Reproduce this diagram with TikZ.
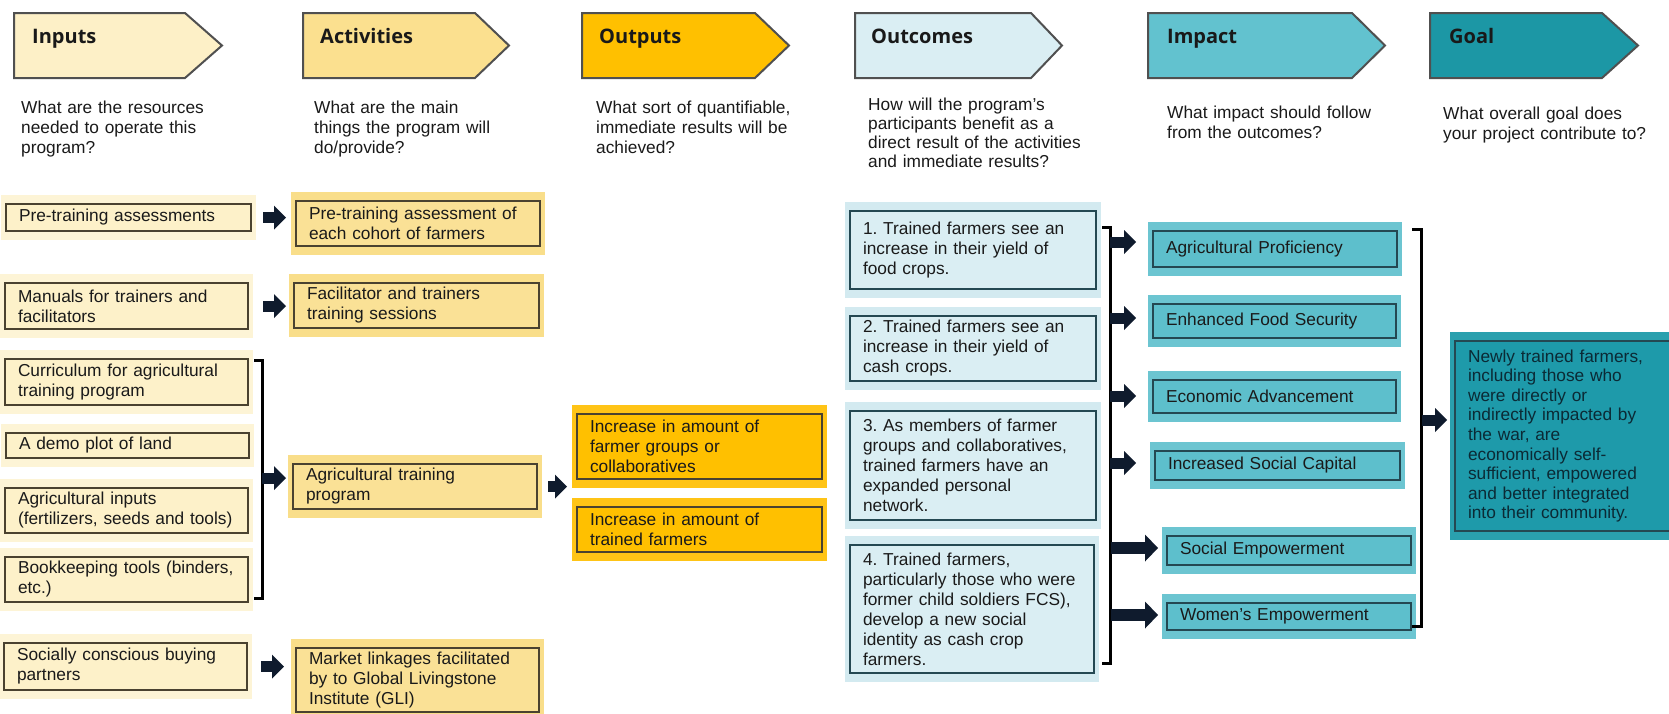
\documentclass[tikz,border=0pt]{standalone}
\usepackage{fontspec}
\setmainfont{Liberation Sans}
\newfontfamily\headfont{Open Sans}
\usetikzlibrary{arrows.meta,backgrounds,calc}
\definecolor{txt}{HTML}{1A1A1A}
\definecolor{hdline}{HTML}{505050}
\definecolor{ydark}{HTML}{4A4230}
\definecolor{bdark}{HTML}{244852}
\definecolor{arrowc}{HTML}{0F1B2D}
\definecolor{hin}{HTML}{FDF0C7}
\definecolor{hact}{HTML}{FBE08F}
\definecolor{hout}{HTML}{FFC000}
\definecolor{hoc}{HTML}{DAEEF3}
\definecolor{him}{HTML}{62C2CF}
\definecolor{hgo}{HTML}{1C97A5}
\definecolor{infill}{HTML}{FDF1C9}
\definecolor{inglow}{HTML}{FDF4D6}
\definecolor{acfill}{HTML}{FAE196}
\definecolor{acglow}{HTML}{F9DE8A}
\definecolor{oufill}{HTML}{FFC000}
\definecolor{ouglow}{HTML}{FFC416}
\definecolor{ocfill}{HTML}{DAEEF3}
\definecolor{ocglow}{HTML}{D3EAF0}
\definecolor{imfill}{HTML}{5DBFCC}
\definecolor{imglow}{HTML}{6CC5D1}
\definecolor{gofill}{HTML}{1E9AAA}
\definecolor{goglow}{HTML}{2AA0AE}
\definecolor{gotxt}{HTML}{0B2A35}
\tikzset{
  every node/.style={font=\frenchspacing\fontsize{17.3}{20}\selectfont, text=txt},
  bx/.style={draw=#1, line width=2pt, inner xsep=13pt, inner ysep=0pt, align=left},
  inbox/.style={bx=ydark, fill=infill},
  acbox/.style={bx=ydark, fill=acfill},
  oubox/.style={bx=ydark, fill=oufill},
  ocbox/.style={bx=bdark, fill=ocfill},
  imbox/.style={bx=bdark, fill=imfill},
  gobox/.style={bx=bdark, fill=gofill, text=gotxt, font=\frenchspacing\fontsize{17.3}{19.6}\selectfont},
  hd/.style={draw=hdline, line width=2pt, line join=miter},
  hdtext/.style={anchor=base west, inner sep=0pt, font=\headfont\bfseries\fontsize{20}{24}\selectfont, text=black!90},
  qtext/.style={anchor=base west, inner sep=0pt, text width=290pt, align=left},
  brk/.style={draw=black, line width=3pt, line join=miter},
  arrS/.style={draw=arrowc, line width=11pt, -{Triangle[length=12pt 0 0, width=24pt 0 0, line width=0pt 0 0]}},
  arrL/.style={draw=arrowc, line width=12pt, -{Triangle[length=13pt 0 0, width=27pt 0 0, line width=0pt 0 0]}},
}
\newcommand{\mkbox}[7]{%
  \pgfmathsetmacro{\boxwd}{#5-#3-26}%
  \pgfmathsetmacro{\boxht}{#6-#4}%
  \node[#2, text width=\boxwd pt, minimum height=\boxht pt, anchor=north west] (#1) at (#3,#4) {#7};}
\newcommand{\mkhead}[6]{%
  \draw[hd, fill=#2] (#3,13) -- (#4,13) -- (#5,45.5) -- (#4,78) -- (#3,78) -- cycle;}
\begin{document}
\begin{tikzpicture}[x=1pt,y=-1pt]
\useasboundingbox (0,0) rectangle (1669,713);

% headers
\mkhead{hIn}{hin}{14}{185}{222}{}
\mkhead{hAc}{hact}{303}{475}{509}{}
\mkhead{hOu}{hout}{582}{755}{789}{}
\mkhead{hOc}{hoc}{855}{1031}{1062}{}
\mkhead{hIm}{him}{1148}{1352}{1385}{}
\mkhead{hGo}{hgo}{1430}{1602}{1638}{}
\node[hdtext] (tIn) at (32,43) {Inputs};
\node[hdtext] (tAc) at (320,43) {Activities};
\node[hdtext] (tOu) at (599,43) {Outputs};
\node[hdtext] (tOc) at (871,43) {Outcomes};
\node[hdtext] (tIm) at (1167,43) {Impact};
\node[hdtext] (tGo) at (1449,43) {Goal};

% questions
\node[qtext] (qIn) at (21,113) {What are the resources\\needed to operate this\\program?};
\node[qtext] (qAc) at (314,113) {What are the main\\things the program will\\do/provide?};
\node[qtext] (qOu) at (596,113) {What sort of quantifiable,\\immediate results will be\\achieved?};
\node[qtext, font=\frenchspacing\fontsize{17.3}{19.3}\selectfont] (qOc) at (868,110) {How will the program's\\participants benefit as a\\direct result of the activities\\and immediate results?};
\node[qtext] (qIm) at (1167,118) {What impact should follow\\from the outcomes?};
\node[qtext] (qGo) at (1443,119) {What overall goal does\\your project contribute to?};

% inputs
\mkbox{in1}{inbox}{5}{203}{250}{230}{Pre-training assessments}
\mkbox{in2}{inbox}{4}{282}{247}{328}{Manuals for trainers and\\facilitators}
\mkbox{in3}{inbox}{4}{358}{247}{404}{Curriculum for agricultural\\training program}
\mkbox{in4}{inbox}{5}{432}{248}{457}{A demo plot of land}
\mkbox{in5}{inbox}{4}{487}{247}{532}{Agricultural inputs\\(fertilizers, seeds and tools)}
\mkbox{in6}{inbox}{4}{556}{247}{601}{Bookkeeping tools (binders,\\etc.)}
\mkbox{in7}{inbox}{3}{642}{246}{689}{Socially conscious buying\\partners}

% activities
\mkbox{ac1}{acbox}{295}{200}{539}{245}{Pre-training assessment of\\each cohort of farmers}
\mkbox{ac2}{acbox}{293}{282}{538}{327}{Facilitator and trainers\\training sessions}
\mkbox{ac3}{acbox}{292}{463}{536}{508}{Agricultural training\\program}
\mkbox{ac4}{acbox}{295}{647}{538}{711}{Market linkages facilitated\\by to Global Livingstone\\Institute (GLI)}

% outputs
\mkbox{ou1}{oubox}{576}{413}{821}{478}{Increase in amount of\\farmer groups or\\collaboratives}
\mkbox{ou2}{oubox}{576}{506}{821}{551}{Increase in amount of\\trained farmers}

% outcomes
\mkbox{oc1}{ocbox}{849}{210}{1095}{288}{1. Trained farmers see an\\increase in their yield of\\food crops.}
\mkbox{oc2}{ocbox}{849}{315}{1095}{380}{2. Trained farmers see an\\increase in their yield of\\cash crops.}
\mkbox{oc3}{ocbox}{849}{410}{1095}{519}{3. As members of farmer\\groups and collaboratives,\\trained farmers have an\\expanded personal\\network.}
\mkbox{oc4}{ocbox}{849}{544}{1093}{672}{4. Trained farmers,\\particularly those who were\\former child soldiers FCS),\\develop a new social\\identity as cash crop\\farmers.}

% impact
\mkbox{im1}{imbox}{1152}{230}{1396}{266}{Agricultural Proficiency}
\mkbox{im2}{imbox}{1152}{303}{1395}{337}{Enhanced Food Security}
\mkbox{im3}{imbox}{1152}{379}{1395}{412}{Economic Advancement}
\mkbox{im4}{imbox}{1154}{450}{1399}{479}{Increased Social Capital}
\mkbox{im5}{imbox}{1166}{535}{1410}{564}{Social Empowerment}
\mkbox{im6}{imbox}{1166}{602}{1410}{629}{Women's Empowerment}

% goal
\mkbox{goal}{gobox}{1454}{340}{1680}{530}{Newly trained farmers,\\including those who\\were directly or\\indirectly impacted by\\the war, are\\economically self-\\sufficient, empowered\\and better integrated\\into their community.}

% brackets
\coordinate (b1t) at (262,360); \coordinate (b1b) at (262,598);
\coordinate (b2t) at (1110,227); \coordinate (b2b) at (1110,663);
\coordinate (b3t) at (1421,229); \coordinate (b3b) at (1421,626);
\draw[brk] ([xshift=-8pt]b1t) -- (b1t) -- (b1b) -- ([xshift=-8pt]b1b);
\draw[brk] ([xshift=-8pt]b2t) -- (b2t) -- (b2b) -- ([xshift=-8pt]b2b);
\draw[brk] ([xshift=-9pt]b3t) -- (b3t) -- (b3b) -- ([xshift=-9pt]b3b);

% arrow starts on brackets
\coordinate (s3) at (262,478);
\coordinate (r1) at (1110,242);
\coordinate (r2) at (1110,318);
\coordinate (r3) at (1110,396);
\coordinate (r4) at (1110,463);
\coordinate (r5) at (1111,548);
\coordinate (r6) at (1111,615);
\coordinate (g1) at (1422,420);

% arrows
\draw[arrS, shorten <=11pt, shorten >=9pt] (in1.east) -- (in1.east -| ac1.west);
\draw[arrS, shorten <=14pt, shorten >=7pt] (in2.east) -- (in2.east -| ac2.west);
\draw[arrS, shorten >=6pt] (s3) -- (s3 -| ac3.west);
\draw[arrS, shorten <=13pt, shorten >=11pt] (in7.east) -- (in7.east -| ac4.west);
\draw[arrS, shorten <=10pt, shorten >=9pt] (ac3.east) -- (ac3.east -| ou1.west);
\draw[arrS, shorten >=16pt] (r1) -- (r1 -| im1.west);
\draw[arrS, shorten >=16pt] (r2) -- (r2 -| im2.west);
\draw[arrS, shorten >=16pt] (r3) -- (r3 -| im3.west);
\draw[arrS, shorten >=18pt] (r4) -- (r4 -| im4.west);
\draw[arrL, shorten >=8pt] (r5) -- (r5 -| im5.west);
\draw[arrL, shorten >=8pt] (r6) -- (r6 -| im6.west);
\draw[arrS, shorten >=7pt] (g1) -- (g1 -| goal.west);

% background and glows
\begin{scope}[on background layer]
\fill[white] (0,0) rectangle (1669,713);
\foreach \n/\c in {in1/inglow,in2/inglow,in3/inglow,in4/inglow,in5/inglow,in6/inglow,in7/inglow,
  ac1/acglow,ac2/acglow,ac3/acglow,ac4/acglow,ou1/ouglow,ou2/ouglow,
  oc1/ocglow,oc2/ocglow,oc3/ocglow,oc4/ocglow,
  im1/imglow,im2/imglow,im3/imglow,im4/imglow,im5/imglow,im6/imglow,goal/goglow}{
  \fill[\c] ([xshift=-4pt,yshift=8pt]\n.north west) rectangle ([xshift=4pt,yshift=-8pt]\n.south east);
}
\end{scope}
\end{tikzpicture}
\end{document}
